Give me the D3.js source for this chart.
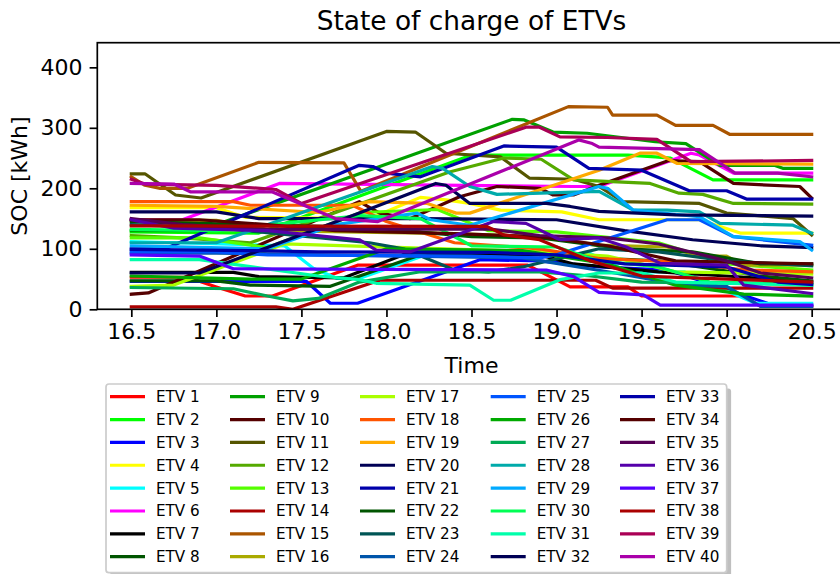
<!DOCTYPE html>
<html>
<head>
<meta charset="utf-8">
<script src="https://cdn.jsdelivr.net/npm/d3@7"></script>
<style>
body { margin: 0; background: #fff; }
svg { display: block; font-family: "DejaVu Sans", sans-serif; }
</style>
</head>
<body>
<svg id="chart"></svg>
<script>
// breakpoints [time, soc], one array per vehicle
const etv1 = [[16.5,53],[16.83,53],[17.0,37],[17.17,22],[17.33,22],[17.83,73],[18.83,73],[19.08,37],[19.42,37],[19.5,22],[20.1,22],[20.2,5],[20.5,5]];
const etv2 = [[16.5,128],[17.25,126],[18.5,255],[19.42,255],[19.58,252],[19.67,250],[19.92,214],[20.5,214]];
const etv3 = [[16.5,46],[17.53,46],[17.67,10],[17.83,10],[18.55,82],[18.9,80],[19.25,70],[19.65,65],[19.84,48],[20.24,10],[20.31,7],[20.5,7]];
const etv4 = [[16.5,168],[17.0,168],[17.17,152],[17.9,150],[18.2,185],[18.35,181],[18.49,175],[18.67,164],[19.03,161],[19.25,148],[19.84,148],[20.08,126],[20.5,126]];
const etv5 = [[16.5,112],[17.4,105],[17.57,68],[17.71,51],[17.84,51],[18.25,92],[19.2,92],[19.42,62],[19.75,62],[19.92,40],[20.17,10],[20.5,10]];
const etv6 = [[16.5,148],[16.8,148],[17.37,208],[19.1,203],[19.25,203],[19.79,258],[19.84,255],[20.04,225],[20.5,225]];
const etv7 = [[16.5,61],[17.1,61],[17.25,54],[17.75,52],[18.1,90],[18.9,90],[19.1,75],[19.6,62],[20.0,55],[20.5,45]];
const etv8 = [[16.5,47],[17.0,47],[17.2,40],[17.67,38],[18.25,95],[18.9,95],[19.2,85],[19.6,80],[20.2,55],[20.5,47]];
const etv9 = [[16.5,130],[16.9,130],[18.74,314],[18.81,313],[18.98,293],[19.18,291],[19.58,277],[19.76,274],[19.96,238],[20.28,238],[20.33,233],[20.5,233]];
const etv10 = [[16.5,25],[16.6,27],[17.84,178],[17.96,159],[18.14,150],[18.43,186],[18.65,203],[18.9,200],[18.98,189],[19.1,189],[19.25,205],[19.66,246],[19.84,244],[20.04,208],[20.43,203],[20.5,184]];
const etv11 = [[16.5,224],[16.58,224],[16.76,189],[16.91,184],[18.0,294],[18.17,293],[18.35,258],[18.67,252],[18.84,217],[19.1,215],[19.25,203],[19.39,178],[19.84,175],[20.0,159],[20.39,150],[20.5,123]];
const etv12 = [[16.5,122],[16.8,118],[17.2,110],[18.37,227],[18.69,250],[18.91,248],[19.1,214],[19.55,208],[19.72,192],[19.86,190],[20.04,175],[20.5,174]];
const etv13 = [[16.5,118],[16.9,118],[17.3,102],[17.85,160],[18.3,165],[18.6,130],[19.0,128],[19.6,110],[20.0,75],[20.5,65]];
const etv14 = [[16.5,4],[17.35,4],[17.45,0],[17.96,48],[19.23,48],[19.33,35],[20.5,35]];
const etv15 = [[16.5,219],[16.58,205],[16.67,200],[16.83,200],[17.25,243],[17.75,242],[17.85,195],[19.07,335],[19.3,334],[19.33,321],[19.59,321],[19.7,304],[19.92,304],[20.02,289],[20.5,289]];
const etv16 = [[16.5,147],[17.0,147],[17.3,130],[18.4,125],[18.9,120],[19.25,106],[19.65,103],[19.84,88],[20.0,88],[20.1,73],[20.5,73]];
const etv17 = [[16.5,38],[16.75,40],[17.4,108],[18.9,95],[19.3,88],[19.7,62],[20.5,58]];
const etv18 = [[16.5,178],[17.1,178],[17.2,172],[17.8,172],[18.0,145],[18.4,110],[18.9,100],[19.25,84],[19.65,79],[20.12,65],[20.5,62]];
const etv19 = [[16.5,172],[17.0,170],[17.6,160],[17.9,178],[18.24,175],[18.41,159],[18.49,159],[19.25,230],[19.49,258],[19.59,258],[19.71,241],[20.5,240]];
const etv20 = [[16.5,161],[17.0,161],[17.25,150],[18.2,150],[19.0,148],[19.4,130],[19.8,115],[20.2,105],[20.5,102]];
const etv21 = [[16.5,100],[16.7,100],[17.84,238],[17.92,236],[18.0,225],[18.2,219],[18.69,270],[19.0,268],[19.19,233],[19.5,230],[19.78,196],[20.0,196],[20.12,182],[20.5,182]];
const etv22 = [[16.5,145],[17.2,140],[17.9,135],[18.5,120],[18.9,118],[19.4,100],[19.8,95],[20.2,75],[20.5,75]];
const etv23 = [[16.5,140],[17.0,135],[17.9,110],[18.1,100],[18.4,65],[18.6,62],[18.8,70],[19.25,100],[19.6,95],[20.0,80],[20.5,72]];
const etv24 = [[16.5,93],[17.0,93],[17.6,90],[18.8,85],[19.3,62],[19.75,40],[20.0,38],[20.2,5],[20.5,5]];
const etv25 = [[16.5,95],[17.0,95],[17.3,90],[18.5,88],[18.9,85],[19.0,90],[19.65,148],[19.84,148],[20.04,120],[20.5,106]];
const etv26 = [[16.5,55],[17.2,50],[17.5,50],[18.0,100],[18.8,97],[19.3,75],[19.7,40],[20.1,25],[20.5,22]];
const etv27 = [[16.5,36],[17.1,34],[17.3,22],[17.45,14],[17.6,18],[17.84,45],[18.2,62],[18.9,62],[19.2,55],[19.5,45],[20.5,42]];
const etv28 = [[16.5,110],[17.0,110],[18.27,236],[18.33,233],[18.49,203],[18.65,190],[19.25,195],[19.45,164],[19.65,164],[19.84,161],[19.96,142],[20.39,139],[20.5,126]];
const etv29 = [[16.5,105],[17.3,100],[17.7,140],[18.18,159],[18.26,148],[18.49,139],[19.25,203],[19.3,200],[19.45,164],[19.84,153],[20.04,120],[20.43,112],[20.5,98]];
const etv30 = [[16.5,132],[17.0,130],[17.5,145],[17.85,155],[18.2,150],[18.5,105],[19.0,103],[19.25,80],[19.6,70],[19.9,45],[20.5,40]];
const etv31 = [[16.5,82],[16.9,82],[17.6,55],[17.84,49],[17.94,43],[18.49,40],[18.63,15],[18.73,15],[19.02,49],[19.25,60],[19.5,60],[19.7,45],[20.5,40]];
const etv32 = [[16.5,60],[16.9,60],[17.84,159],[18.29,208],[18.35,205],[18.49,175],[18.94,175],[19.08,170],[19.25,162],[19.7,156],[20.5,154]];
const etv33 = [[16.5,99],[17.2,97],[17.6,95],[18.6,94],[19.0,90],[19.4,75],[20.0,70],[20.3,45],[20.5,41]];
const etv34 = [[16.5,148],[16.9,148],[17.3,140],[17.7,130],[18.4,125],[18.9,120],[19.3,105],[19.7,80],[20.0,78],[20.5,75]];
const etv35 = [[16.5,150],[16.8,140],[17.3,132],[18.6,133],[18.9,122],[19.3,118],[19.6,108],[20.0,80],[20.2,60],[20.5,52]];
const etv36 = [[16.5,148],[16.75,134],[17.3,130],[17.84,115],[17.94,98],[18.14,95],[18.63,145],[18.82,142],[19.02,115],[19.25,118],[19.41,103],[19.61,76],[20.0,73],[20.1,40],[20.5,26]];
const etv37 = [[16.5,90],[16.9,88],[17.1,67],[18.94,65],[19.1,54],[19.25,28],[19.51,24],[19.61,7],[20.5,7]];
const etv38 = [[16.5,138],[18.59,137],[18.69,123],[18.9,115],[19.2,80],[19.5,55],[20.5,45]];
const etv39 = [[16.5,215],[16.58,207],[17.0,205],[17.35,198],[17.5,175],[18.82,301],[18.9,301],[19.02,285],[19.3,284],[19.59,281],[19.79,244],[20.5,246]];
const etv40 = [[16.5,208],[16.75,207],[16.85,194],[17.33,194],[17.7,150],[17.95,145],[19.13,280],[19.21,274],[19.25,268],[19.84,264],[20.05,225],[20.3,225],[20.5,219]];

const series = [etv1, etv2, etv3, etv4, etv5, etv6, etv7, etv8, etv9, etv10,
  etv11, etv12, etv13, etv14, etv15, etv16, etv17, etv18, etv19, etv20,
  etv21, etv22, etv23, etv24, etv25, etv26, etv27, etv28, etv29, etv30,
  etv31, etv32, etv33, etv34, etv35, etv36, etv37, etv38, etv39, etv40];

const names = series.map((s, i) => 'ETV ' + (i + 1));

const colors = ['#ff0000', '#00ff00', '#0000ff', '#ffff00', '#00ffff', '#ff00ff', '#000000', '#005500',
  '#00a000', '#550000', '#555500', '#55aa00', '#55ff00', '#aa0000', '#aa5500', '#aaaa00',
  '#aaff00', '#ff5500', '#ffaa00', '#000055', '#0000aa', '#005500', '#005555', '#0055aa',
  '#0055ff', '#00aa00', '#00aa55', '#00aaaa', '#00aaff', '#00ff55', '#00ffaa', '#000055',
  '#0000aa', '#550000', '#550055', '#5500aa', '#5500ff', '#aa0000', '#aa0055', '#aa00aa'];

const xTicks = [16.5, 17.0, 17.5, 18.0, 18.5, 19.0, 19.5, 20.0, 20.5];
const yTicks = [0, 100, 200, 300, 400];

const W = 840, H = 574;
const margin = {left: 97.3, right: -5.7, top: 42.7, bottom: 264.7};

const svg = d3.select('#chart').attr('width', W).attr('height', H);

const x = d3.scaleLinear().domain([16.3, 20.7]).range([margin.left, W - margin.right]);
const y = d3.scaleLinear().domain([0, 440.7]).range([H - margin.bottom, margin.top]);

svg.append('defs').append('clipPath').attr('id', 'plotclip')
  .append('rect')
    .attr('x', margin.left).attr('y', margin.top)
    .attr('width', x.range()[1] - margin.left).attr('height', y.range()[0] - margin.top);

const line = d3.line().x(d => x(d[0])).y(d => y(d[1]));

svg.append('g').attr('clip-path', 'url(#plotclip)')
  .selectAll('path').data(series)
  .enter().append('path')
    .attr('d', line)
    .attr('fill', 'none')
    .attr('stroke', (d, i) => colors[i])
    .attr('stroke-width', 3.2)
    .attr('stroke-linejoin', 'round')
    .attr('stroke-linecap', 'square');

// axes
const xAxis = svg.append('g')
  .attr('transform', `translate(0,${y(0)})`)
  .call(d3.axisBottom(x).tickValues(xTicks).tickFormat(d3.format('.1f')).tickSize(7.7).tickPadding(6));
const yAxis = svg.append('g')
  .attr('transform', `translate(${margin.left},0)`)
  .call(d3.axisLeft(y).tickValues(yTicks).tickFormat(d3.format('d')).tickSize(7.7).tickPadding(7));

[xAxis, yAxis].forEach(a => {
  a.select('.domain').remove();
  a.selectAll('line').attr('stroke', '#000').attr('stroke-width', 1.7);
  a.selectAll('text').attr('fill', '#000').attr('font-size', 22)
    .attr('font-family', '"DejaVu Sans", sans-serif');
});

// frame
svg.append('rect')
  .attr('x', margin.left).attr('y', margin.top)
  .attr('width', x.range()[1] - margin.left).attr('height', y.range()[0] - margin.top)
  .attr('fill', 'none').attr('stroke', '#000').attr('stroke-width', 1.7);

svg.append('text')
  .attr('x', (margin.left + x.range()[1]) / 2).attr('y', 29.5)
  .attr('text-anchor', 'middle').attr('font-size', 26.4)
  .text('State of charge of ETVs');

svg.append('text')
  .attr('x', (margin.left + x.range()[1]) / 2).attr('y', 373)
  .attr('text-anchor', 'middle').attr('font-size', 22)
  .text('Time');

svg.append('text')
  .attr('transform', `translate(27,${(margin.top + y(0)) / 2}) rotate(-90)`)
  .attr('text-anchor', 'middle').attr('font-size', 22)
  .text('SOC [kWh]');

// legend
const leg = svg.append('g');
const legBox = {x: 106, y: 384, w: 620.7, h: 188.7};
leg.append('rect')
  .attr('x', legBox.x + 4.4).attr('y', legBox.y + 4.4)
  .attr('width', legBox.w).attr('height', legBox.h)
  .attr('rx', 3).attr('fill', '#7f7f7f').attr('opacity', 0.5);
leg.append('rect')
  .attr('x', legBox.x).attr('y', legBox.y)
  .attr('width', legBox.w).attr('height', legBox.h)
  .attr('rx', 3).attr('fill', '#fff').attr('stroke', '#cccccc').attr('stroke-width', 1.7);

const colX = [110, 230, 360, 490.7, 620];
const rowY = d3.scaleLinear().domain([0, 7]).range([396.7, 556.7]);

const items = leg.selectAll('g.item').data(names)
  .enter().append('g').attr('class', 'item')
    .attr('transform', (d, i) => `translate(${colX[Math.floor(i / 8)]},${rowY(i % 8)})`);
items.append('line')
  .attr('x1', 0).attr('x2', 35).attr('y1', 0).attr('y2', 0)
  .attr('stroke', (d, i) => colors[i]).attr('stroke-width', 3.2);
items.append('text')
  .attr('x', 46).attr('y', 5.5).attr('font-size', 15.2).attr('fill', '#000')
  .text(d => d);
</script>
</body>
</html>
